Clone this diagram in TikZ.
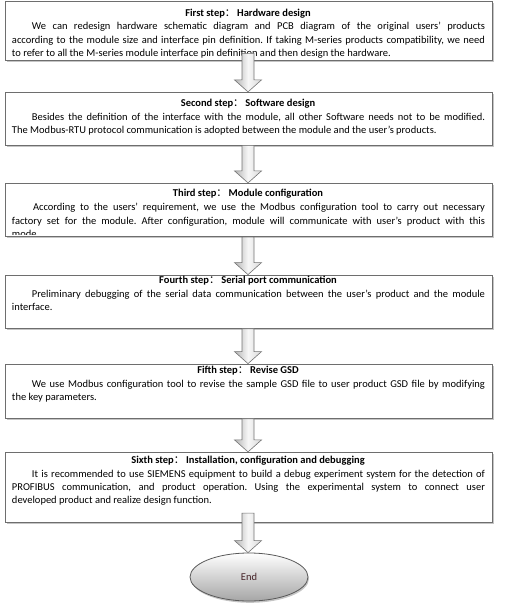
\documentclass[tikz,border=0pt]{standalone}
\usepackage{fontspec}
\setmainfont{Carlito}
\newfontfamily\cjk{Noto Sans CJK SC}
\usetikzlibrary{shapes.geometric,shadows,calc}
\definecolor{endtext}{RGB}{70,35,40}
\definecolor{boxline}{RGB}{110,110,110}
\newcommand\stepfont{\fontsize{10.5}{13.4}\selectfont\frenchspacing}
\newcommand\stepcolon{{\cjk\mdseries ：}\,}
\newcommand\blockarrow[2]{%
  \path[blockarr] let \p1=(#1), \p2=(#2) in
    (\x1-6pt,\y1) -- (\x1+6pt,\y1) -- (\x1+6pt,\y2+12pt) -- (\x1+13.5pt,\y2+12pt)
    -- (\x1,\y2) -- (\x1-13.5pt,\y2+12pt) -- (\x1-6pt,\y2+12pt) -- cycle;}
\tikzset{
  stepbox/.style={rectangle, draw=boxline, line width=0.8pt, fill=white, inner sep=0pt,
    minimum width=487pt,
    drop shadow={shadow xshift=1.5pt, shadow yshift=-1.5pt, fill=black!45, opacity=0.5}},
  steptitle/.style={font=\stepfont\bfseries, inner sep=0pt, anchor=center},
  stepbody/.style={font=\stepfont, text width=473pt, inner sep=0pt, anchor=north, align=justify},
  blockarr/.style={draw=black!55, line width=0.6pt, left color=black!30, right color=black!15,
    middle color=black!3},
  endnode/.style={ellipse, draw=black!65, line width=0.8pt, minimum width=118pt, minimum height=48pt,
    top color=white, bottom color=black!35, inner sep=0pt, font=\stepfont, text=endtext,
    drop shadow={shadow xshift=1pt, shadow yshift=-1.8pt, fill=black!45, opacity=0.5}}
}
\begin{document}
\begin{tikzpicture}[x=1pt,y=-1pt]
\useasboundingbox (0,0) rectangle (505,605);
% boxes
\node[stepbox, minimum height=58.3pt] (b1) at (248.5,30.85) {};
\node[stepbox, minimum height=52.7pt] (b2) at (248.5,118.65) {};
\node[stepbox, minimum height=53.4pt] (b3) at (248.5,210) {};
\node[stepbox, minimum height=53.3pt] (b4) at (248.5,301.65) {};
\node[stepbox, minimum height=54.3pt] (b5) at (248.5,391.15) {};
\node[stepbox, minimum height=70.4pt] (b6) at (248.5,487.5) {};
\node[endnode] (e) at (249,577) {End};
% texts
\node[steptitle] (t1) at (248,13.3) {First step\stepcolon Hardware design};
\node[stepbody] (p1) at (248.5,22.3) {\hspace*{20pt}We can redesign hardware schematic diagram and PCB diagram of the original users’ products\linebreak
according to the module size and interface pin definition. If taking M-series products compatibility, we need\linebreak
to refer to all the M-series module interface pin definition and then design the hardware.};
\node[steptitle] (t2) at (248,104) {Second step\stepcolon Software design};
\node[stepbody] (p2) at (248.5,113) {\hspace*{20pt}Besides the definition of the interface with the module, all other Software needs not to be modified.\linebreak
The Modbus-RTU protocol communication is adopted between the module and the user's products.};
\node[steptitle] (t3) at (248,194) {Third step\stepcolon Module configuration};
\begin{scope}
\clip ($(b3.north west)+(0,1)$) rectangle ($(b3.south east)+(0,-2.2)$);
\node[stepbody] (p3) at (248.5,203) {\hspace*{21pt}According to the users' requirement, we use the Modbus configuration tool to carry out necessary\linebreak
factory set for the module. After configuration, module will communicate with user’s product with this\linebreak
mode.};
\end{scope}
\node[steptitle] (t4) at (248,280.7) {Fourth step\stepcolon Serial port communication};
\node[stepbody] (p4) at (248.5,289.7) {\hspace*{20pt}Preliminary debugging of the serial data communication between the user's product and the module\linebreak
interface.};
\node[steptitle] (t5) at (248,370.7) {Fifth step\stepcolon Revise GSD};
\node[stepbody] (p5) at (248.5,379.7) {\hspace*{20pt}We use Modbus configuration tool to revise the sample GSD file to user product GSD file by modifying\linebreak
the key parameters.};
\node[steptitle] (t6) at (248,460.7) {Sixth step\stepcolon Installation, configuration and debugging};
\node[stepbody] (p6) at (248.5,469.7) {\hspace*{20pt}It is recommended to use SIEMENS equipment to build a debug experiment system for the detection of\linebreak
PROFIBUS communication, and product operation. Using the experimental system to connect user\linebreak
developed product and realize design function.};
% connector points
\coordinate (a1s) at ($(b1.south)+(-0.5,-7)$);
\coordinate (a1e) at ($(b2.north)+(-0.5,0)$);
\coordinate (a2s) at ($(b2.south)+(-0.5,0)$);
\coordinate (a2e) at ($(b3.north)+(-0.5,0)$);
\coordinate (a3s) at ($(b3.south)+(-0.5,0)$);
\coordinate (a3e) at ($(b4.north)+(-0.5,0)$);
\coordinate (a4s) at ($(b4.south)+(-0.5,0)$);
\coordinate (a4e) at ($(b5.north)+(-0.5,0)$);
\coordinate (a5s) at ($(b5.south)+(-0.5,0)$);
\coordinate (a5e) at ($(b6.north)+(-0.5,0)$);
\coordinate (a6s) at ($(b6.south)+(-0.5,-10)$);
\coordinate (a6e) at ($(e.north)+(-1,0)$);
\blockarrow{a1s}{a1e}
\blockarrow{a2s}{a2e}
\blockarrow{a3s}{a3e}
\blockarrow{a4s}{a4e}
\blockarrow{a5s}{a5e}
\blockarrow{a6s}{a6e}
\end{tikzpicture}
\end{document}
